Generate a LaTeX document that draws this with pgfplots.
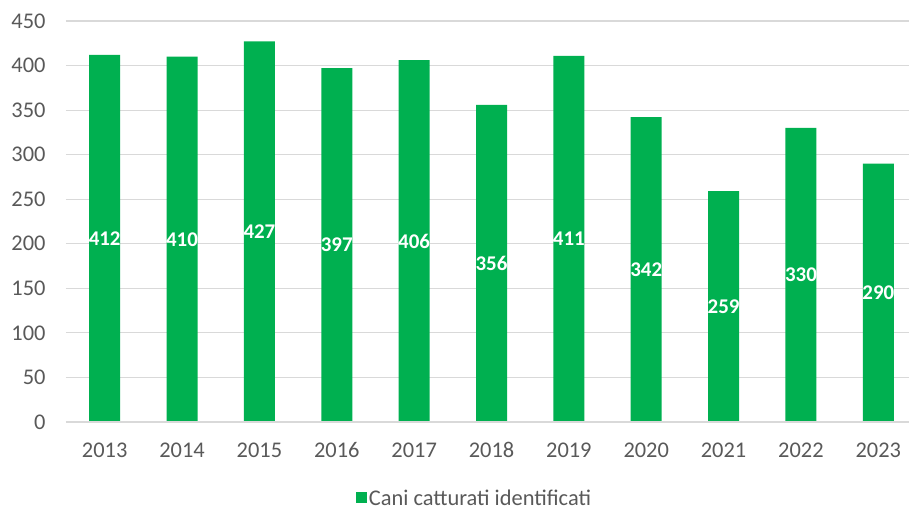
\documentclass[border=0pt]{standalone}
\usepackage{fontspec}
\setmainfont{Carlito}
\usepackage{pgfplots}
\pgfplotsset{compat=1.18}
\definecolor{bargreen}{HTML}{00B050}
\definecolor{ticktext}{HTML}{595959}
\definecolor{gridgray}{HTML}{D9D9D9}
\begin{document}
\begin{tikzpicture}
\path[use as bounding box] (-66bp,-87bp) rectangle (843bp,422bp);
\begin{axis}[
  scale only axis,
  width=851bp, height=401bp,
  ymin=0, ymax=450,
  xmin=-0.5, xmax=10.5,
  ytick={0,50,...,450},
  xtick={0,...,10},
  xticklabels={2013,2014,2015,2016,2017,2018,2019,2020,2021,2022,2023},
  axis line style={draw=none},
  major tick length=0pt,
  ymajorgrids,
  grid style={gridgray, line width=1.2bp},
  tick label style={font=\fontsize{22.5}{26}\selectfont, text=ticktext},
  /pgf/number format/assume math mode=true,
  yticklabel style={xshift=-17bp},
  xticklabel style={yshift=-17bp},
  legend style={at={(0.48,-0.19)}, anchor=center, draw=none, fill=none, font=\fontsize{22.5}{26}\selectfont, text=ticktext, legend cell align=left, inner sep=0pt, outer sep=0pt},
  legend image code/.code={\fill[bargreen] (-2bp,-5bp) rectangle (9bp,6bp);},
]
\addplot[ybar, bar width=31bp, fill=bargreen, draw=none,
  visualization depends on=y \as \rawy,
  nodes near coords,
  nodes near coords style={anchor=center, text=white, font=\bfseries\fontsize{21}{24}\selectfont, yshift=-\rawy*0.4456bp},
] coordinates {
(0,412) (1,410) (2,427) (3,397) (4,406) (5,356) (6,411) (7,342) (8,259) (9,330) (10,290)
};
\addlegendentry{Cani catturati identificati}
\draw[gridgray, line width=1.5bp] (axis cs:-0.5,0) -- (axis cs:10.5,0);
\end{axis}
\end{tikzpicture}
\end{document}
